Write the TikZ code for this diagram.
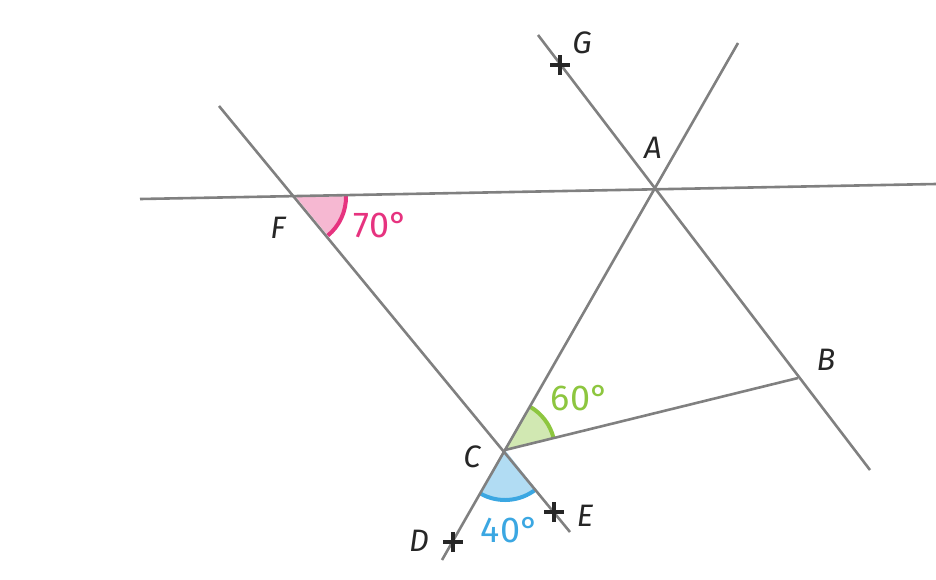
\documentclass[tikz,border=0pt]{standalone}
\usepackage{fontspec}
\setmainfont{Fira Sans}
\usetikzlibrary{angles}
\definecolor{geopink}{HTML}{E6337F}
\definecolor{geogreen}{HTML}{8DC63F}
\definecolor{geoblue}{HTML}{3BA7E2}

\begin{document}
\begin{tikzpicture}[x=.5pt,y=-.5pt,
  trait/.style={black!50,line width=1.3pt},
  lettre/.style={font=\fontsize{15.5}{17}\selectfont\itshape,text=black!85},
  mesure/.style={font=\fontsize{18}{20}\selectfont},
  croix/.style={black!85,line width=1.6pt},
  secteur/.style={line width=2pt,angle radius=25pt}]
\useasboundingbox (0,0) rectangle (936,579);
\coordinate (A) at (655,189); \coordinate (F) at (296,197); \coordinate (C) at (505,450); \coordinate (B) at (798,378);
\coordinate (G) at (560,65); \coordinate (E) at (554,512); \coordinate (D) at (453,542);
\coordinate (h1) at (140,199); \coordinate (h2) at (936,184);
\coordinate (ac1) at (738,43); \coordinate (ac2) at (442,560);
\coordinate (fc1) at (219,106); \coordinate (fc2) at (570,532);
\coordinate (ga1) at (538,35); \coordinate (ga2) at (870,470);
\pic[draw=geopink,fill=geopink!35,secteur]{angle=C--F--h2};
\pic[draw=geogreen,fill=geogreen!40,secteur]{angle=B--C--A};
\pic[draw=geoblue,fill=geoblue!40,secteur]{angle=D--C--E};
\draw[trait] (h1) -- (h2);
\draw[trait] (ac1) -- (ac2);
\draw[trait] (fc1) -- (fc2);
\draw[trait] (ga1) -- (ga2);
\draw[trait] (C) -- (B);
\foreach \p in {G,E,D} \draw[croix] ([xshift=-5pt]\p) -- ([xshift=5pt]\p) ([yshift=-5pt]\p) -- ([yshift=5pt]\p);
\node[lettre] (lA) at (653,148) {A};
\node[lettre] (lB) at (826,360) {B};
\node[lettre] (lC) at (472,457) {C};
\node[lettre] (lD) at (419,541) {D};
\node[lettre] (lE) at (585,516) {E};
\node[lettre] (lF) at (278,228) {F};
\node[lettre] (lG) at (582,43) {G};
\node[mesure,text=geopink] (m70) at (381,225) {70°};
\node[mesure,text=geogreen] (m60) at (580,398) {60°};
\node[mesure,text=geoblue] (m40) at (510,530) {40°};
\end{tikzpicture}
\end{document}
